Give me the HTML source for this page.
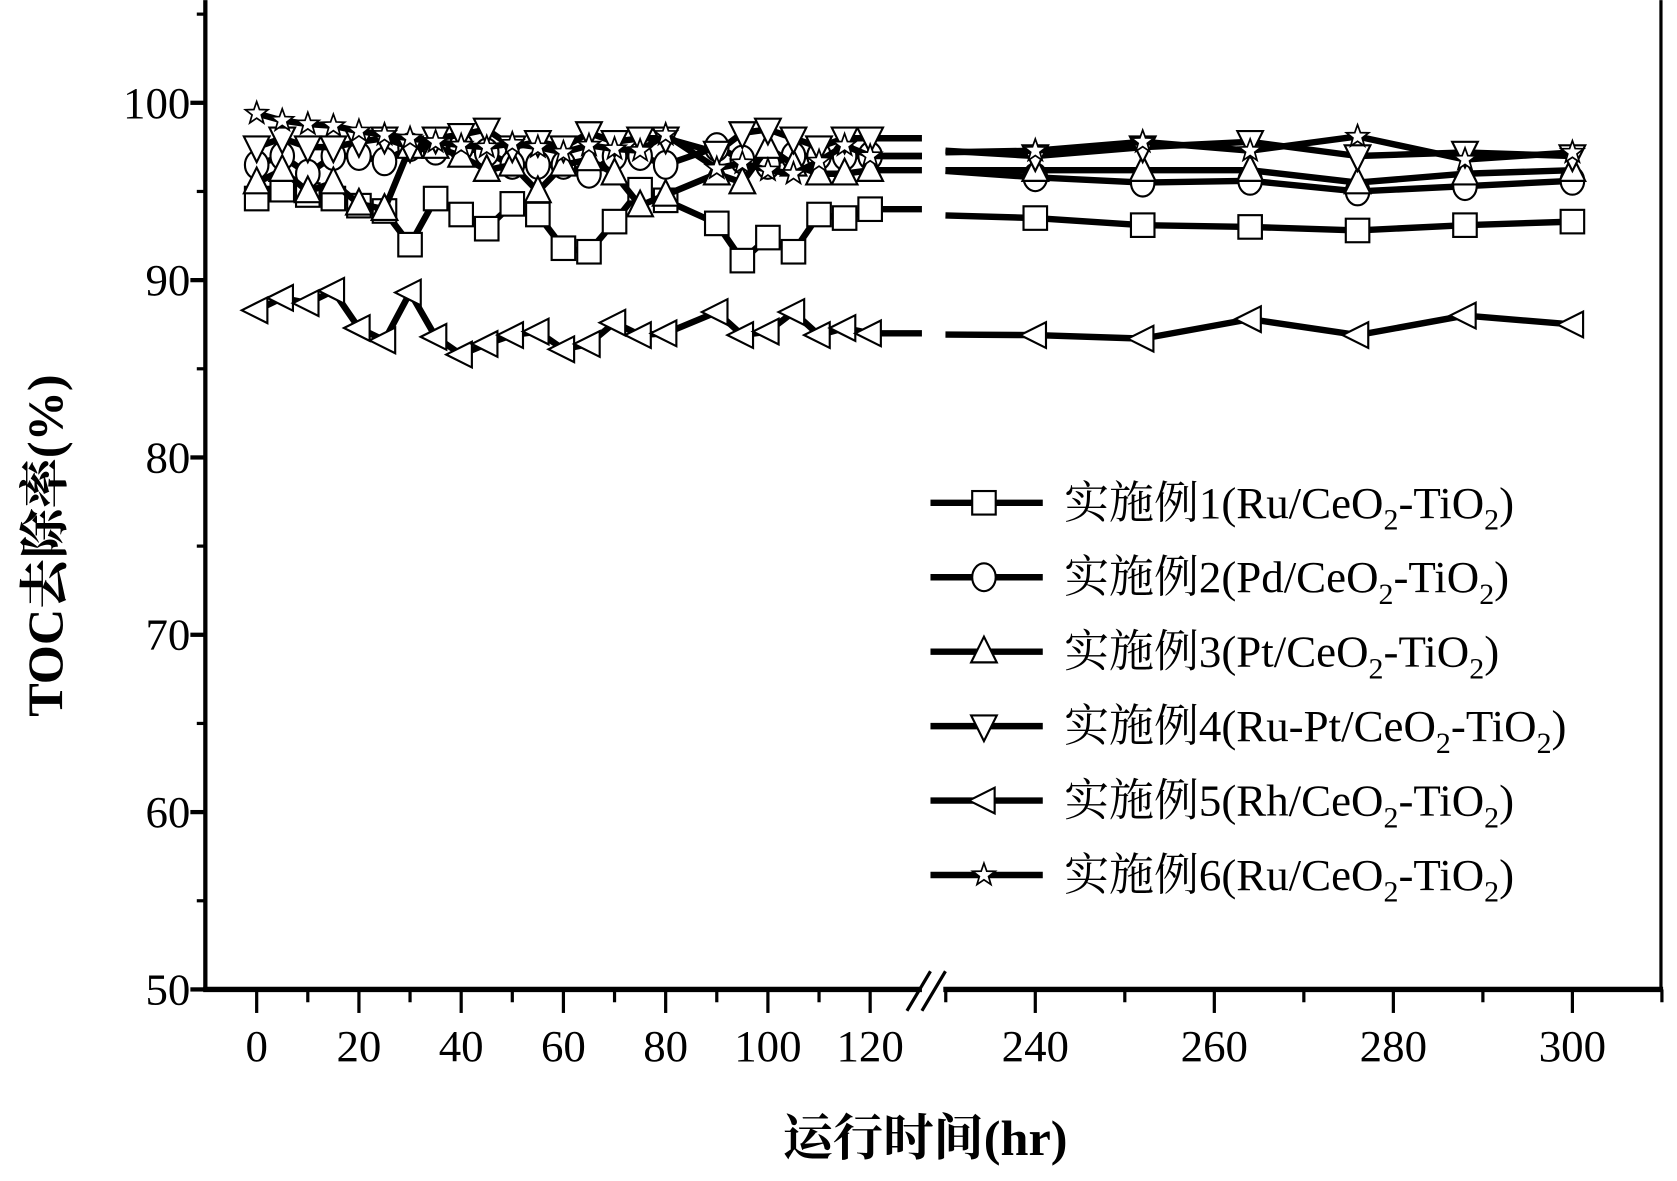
<!DOCTYPE html>
<html><head><meta charset="utf-8"><style>
html,body{margin:0;padding:0;background:#fff}
svg{display:block}
text{font-family:"Liberation Serif","Noto Serif CJK SC",serif;fill:#000}
</style></head><body>
<svg width="1677" height="1181" viewBox="0 0 1568 1104" xmlns="http://www.w3.org/2000/svg">
<g id="plot"></g>
</svg>
<script>
const times1 = [0,5,10,15,20,25,30,35,40,45,50,55,60,65,70,75,80,90,95,100,105,110,115,120];
const times2 = [240,252,264,276,288,300];
const seriesNames = ["实施例1(Ru/CeO|2|-TiO|2|)","实施例2(Pd/CeO|2|-TiO|2|)","实施例3(Pt/CeO|2|-TiO|2|)","实施例4(Ru-Pt/CeO|2|-TiO|2|)","实施例5(Rh/CeO|2|-TiO|2|)","实施例6(Ru/CeO|2|-TiO|2|)"];
const markers = ["square","circle","up","down","left","star"];
const s1a = [94.6,95.1,94.8,94.6,94.2,93.9,92.0,94.6,93.7,92.9,94.3,93.7,91.8,91.6,93.3,95.1,94.5,93.2,91.1,92.4,91.6,93.7,93.5,94.0];
const s1b = [93.5,93.1,93.0,92.8,93.1,93.3];
const s2a = [96.5,97.0,96.0,97.0,97.0,96.7,97.5,97.3,97.5,97.2,96.5,96.5,96.5,96.0,97.0,97.0,96.5,97.5,96.8,96.5,97.0,97.0,97.0,97.0];
const s2b = [95.8,95.5,95.6,95.0,95.3,95.6];
const s3a = [95.5,96.2,95.0,95.5,94.3,94.0,97.5,97.5,97.0,96.2,96.5,95.0,96.5,96.8,96.0,94.2,94.8,96.0,95.5,97.5,96.5,96.0,96.0,96.2];
const s3b = [96.2,96.2,96.2,95.5,96.0,96.2];
const s4a = [97.5,98.0,97.5,97.5,97.8,98.0,97.5,98.0,98.2,98.5,97.5,97.8,97.5,98.3,97.8,98.0,98.0,97.2,98.3,98.5,98.0,97.5,98.0,98.0];
const s4b = [97.0,97.5,97.8,97.0,97.2,97.0];
const s5a = [88.3,89.0,88.7,89.4,87.3,86.6,89.3,86.8,85.8,86.4,86.9,87.1,86.1,86.4,87.6,86.9,87.0,88.2,86.9,87.1,88.2,86.9,87.3,87.0];
const s5b = [86.9,86.7,87.8,86.9,88.0,87.5];
const s6a = [99.4,99.0,98.8,98.7,98.4,98.2,98.0,97.8,97.6,97.5,97.7,97.5,97.2,97.6,97.4,97.3,98.2,96.3,96.6,96.2,96.0,96.7,97.6,97.0];
const s6b = [97.3,97.8,97.3,98.1,96.8,97.2];
const segA = [s1a,s2a,s3a,s4a,s5a,s6a];
const segB = [s1b,s2b,s3b,s4b,s5b,s6b];
const yTicks = [50,60,70,80,90,100];
const xTicks1 = [0,20,40,60,80,100,120];
const xTicks2 = [240,260,280,300];

const NS="http://www.w3.org/2000/svg";
const g=document.getElementById('plot');
const X0=192,X1=1553,Y0=925;
function yS(v){return 925-(v-50)*16.58;}
function xS(t){return t<=125?240+t*4.78:968+(t-240)*8.37;}
function mk(tag,attrs,parent){const e=document.createElementNS(NS,tag);for(const k in attrs)e.setAttribute(k,attrs[k]);(parent||g).appendChild(e);return e;}

let ax=mk('line',{x1:X0,y1:0,x2:X0,y2:Y0+2,stroke:'#000','stroke-width':4});


let axr=mk('line',{x1:X1,y1:0,x2:X1,y2:Y0+2,stroke:'#000','stroke-width':3});


let bx1=mk('line',{x1:X0-2,y1:Y0,x2:862,y2:Y0,stroke:'#000','stroke-width':5});


let bx2=mk('line',{x1:882,y1:Y0,x2:X1+2,y2:Y0,stroke:'#000','stroke-width':5});


let br=mk('path',{d:'M848,945 L870,908 M862,945 L884,908',stroke:'#000','stroke-width':3,fill:'none'});



yTicks.forEach((v,i)=>{
  mk('line',{x1:X0-14,y1:yS(v),x2:X0,y2:yS(v),stroke:'#000','stroke-width':4});
  if(i<yTicks.length-1) mk('line',{x1:X0-8,y1:(yS(v)+yS(v+10))/2,x2:X0,y2:(yS(v)+yS(v+10))/2,stroke:'#000','stroke-width':3});
  const t=mk('text',{x:178,y:yS(v)+14,'text-anchor':'end','font-size':42});
  t.textContent=v;
  
  
});
mk('line',{x1:X0-8,y1:yS(105),x2:X0,y2:yS(105),stroke:'#000','stroke-width':3});
xTicks1.concat(xTicks2).forEach(v=>{
  mk('line',{x1:xS(v),y1:Y0,x2:xS(v),y2:Y0+22,stroke:'#000','stroke-width':3});
  const t=mk('text',{x:xS(v),y:992,'text-anchor':'middle','font-size':42});
  t.textContent=v;
  
  
});
for(let v=10;v<=130;v+=20){ if(v<125) mk('line',{x1:xS(v),y1:Y0,x2:xS(v),y2:Y0+12,stroke:'#000','stroke-width':3}); }
[230,250,270,290,310].forEach(v=>mk('line',{x1:xS(v),y1:Y0,x2:xS(v),y2:Y0+12,stroke:'#000','stroke-width':3}));

const xt=mk('text',{x:865,y:1080,'text-anchor':'middle','font-size':47,'font-weight':'bold'});
xt.textContent='运行时间(hr)';


const yt=mk('text',{x:0,y:0,'text-anchor':'middle','font-size':47,'font-weight':'bold',transform:'translate(58,510) rotate(-90)'});
yt.textContent='TOC去除率(%)';



function marker(type,x,y,parent){
  const s=12, a={fill:'#fff',stroke:'#000','stroke-width':2};
  let e;
  if(type==='square') e=mk('rect',Object.assign({x:x-s+1,y:y-s+1,width:2*s-2,height:2*s-2},a),parent);
  else if(type==='circle') e=mk('ellipse',Object.assign({cx:x,cy:y,rx:s-1,ry:s+1},a),parent);
  else if(type==='up') e=mk('polygon',Object.assign({points:`${x},${y-s-2} ${x-s},${y+s-2} ${x+s},${y+s-2}`},a),parent);
  else if(type==='down') e=mk('polygon',Object.assign({points:`${x},${y+s+2} ${x-s},${y-s+2} ${x+s},${y-s+2}`},a),parent);
  else if(type==='left') e=mk('polygon',Object.assign({points:`${x-s-2},${y} ${x+s-2},${y-s} ${x+s-2},${y+s}`},a),parent);
  else {let p=[];for(let i=0;i<10;i++){const r=i%2?4.5:11,an=-Math.PI/2+i*Math.PI/5;p.push((x+r*Math.cos(an)).toFixed(1)+','+(y+r*Math.sin(an)).toFixed(1));}
    e=mk('polygon',Object.assign({points:p.join(' ')},a,{'stroke-width':1.6}),parent);}
  
  
}

segA.forEach((A,si)=>{
  const B=segB[si];
  const sg=mk('g',{});
  
  
  let p1=times1.map((t,i)=>xS(t)+','+yS(A[i]));
  p1.push('862,'+yS(A[A.length-1]));
  mk('polyline',{points:p1.join(' '),fill:'none',stroke:'#000','stroke-width':6,'stroke-linejoin':'round'},sg);
  let p2=['884,'+yS(B[0]+ (A[A.length-1]-B[0])*0.3)].concat(times2.map((t,i)=>xS(t)+','+yS(B[i])));
  mk('polyline',{points:p2.join(' '),fill:'none',stroke:'#000','stroke-width':6,'stroke-linejoin':'round'},sg);
  times1.forEach((t,i)=>marker(markers[si],xS(t),yS(A[i]),sg));
  times2.forEach((t,i)=>marker(markers[si],xS(t),yS(B[i]),sg));
});

const lg=mk('g',{});


seriesNames.forEach((nm,i)=>{
  const y=470+i*69.6;
  const en=mk('g',{},lg);
  
  
  mk('line',{x1:870,y1:y,x2:975,y2:y,stroke:'#000','stroke-width':6},en);
  marker(markers[i],920,y,en);
  const t=mk('text',{x:995,y:y+14,'font-size':42},en);
  const parts=nm.split('|');
  parts.forEach((p,j)=>{
    const ts=mk('tspan',j%2?{'font-size':28,dy:11}:(j>0?{dy:-11}:{}),t);
    ts.textContent=p;
  });
});
</script>
</body></html>
